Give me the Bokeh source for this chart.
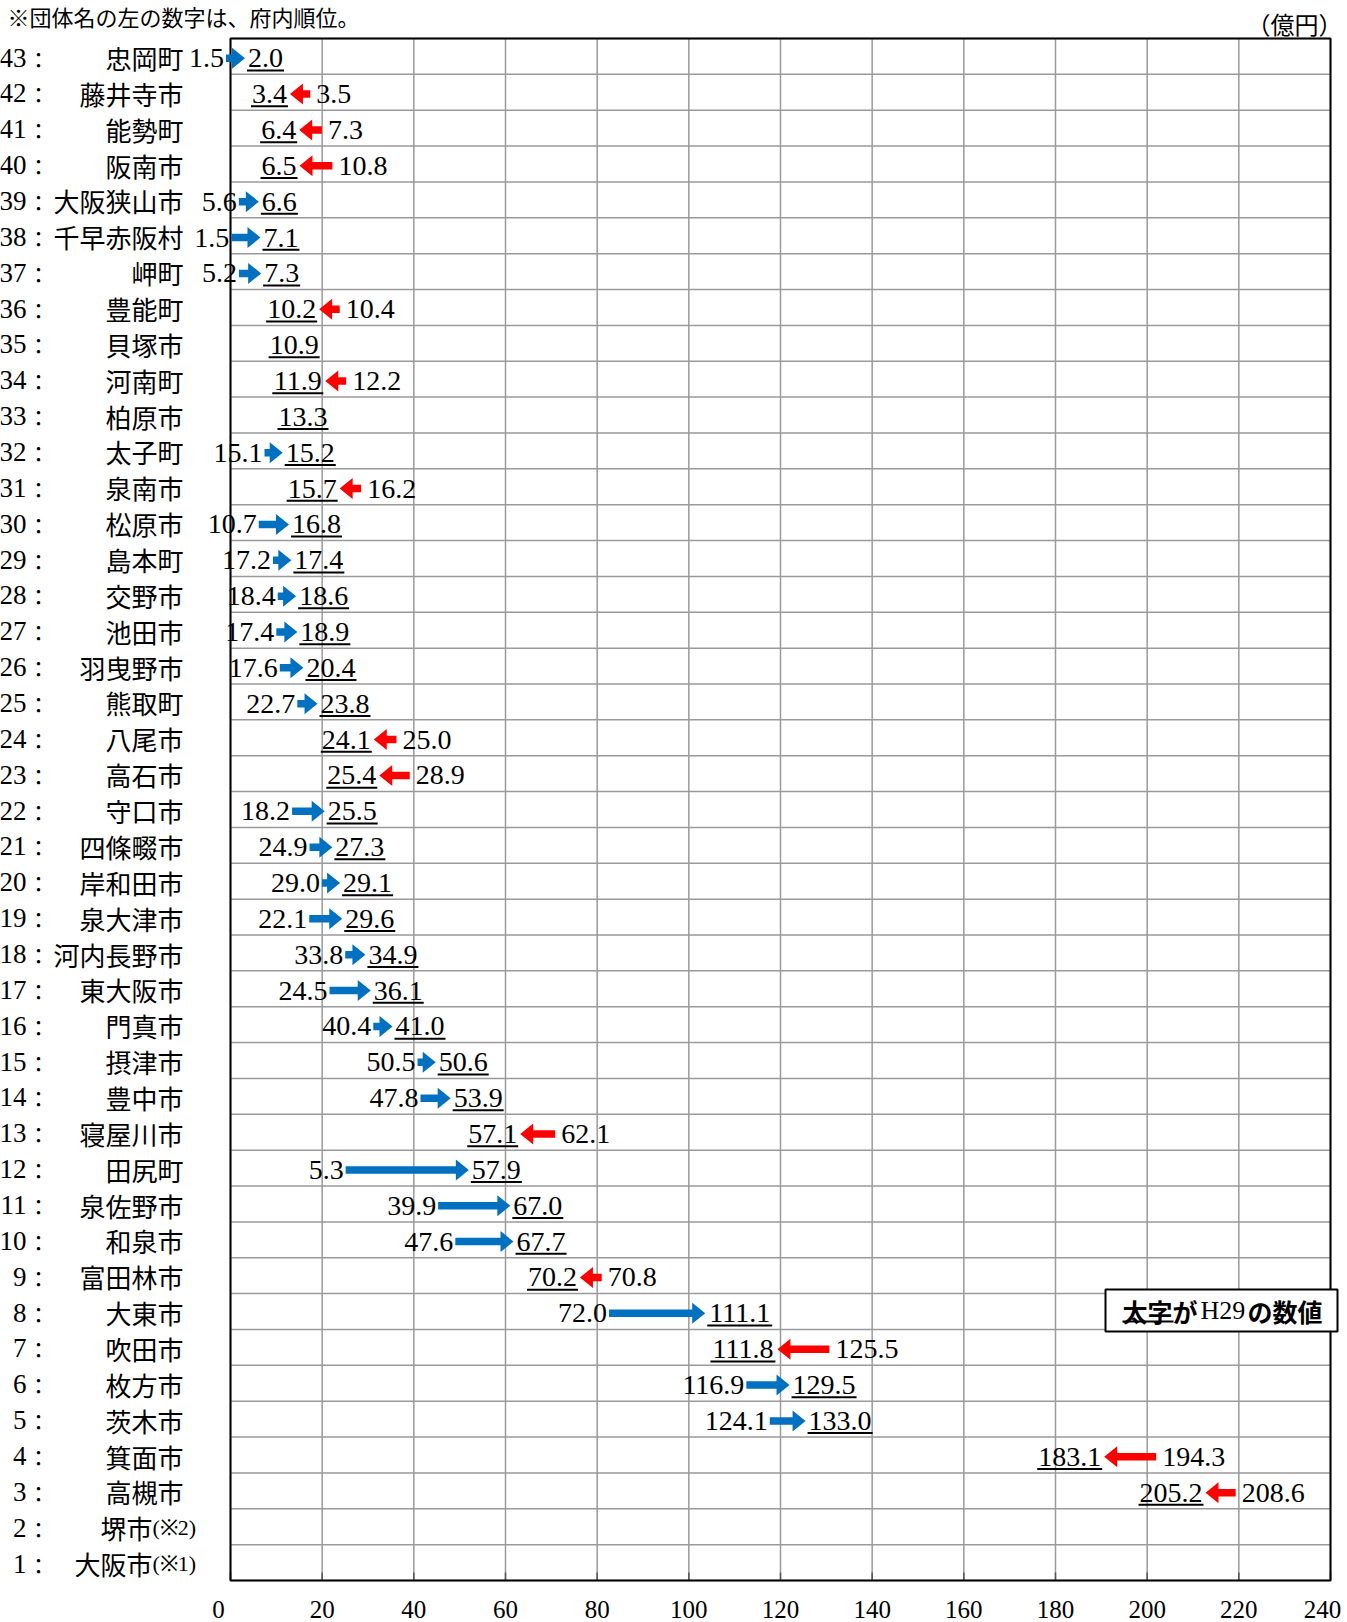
import math
from bokeh.plotting import figure
from bokeh.models import Range1d
from bokeh.core.properties import value
from bokeh.embed import file_html
from bokeh.resources import INLINE

# ---------------- data ----------------
ranks = list(range(43, 0, -1))
names = ["忠岡町", "藤井寺市", "能勢町", "阪南市", "大阪狭山市", "千早赤阪村", "岬町", "豊能町",
         "貝塚市", "河南町", "柏原市", "太子町", "泉南市", "松原市", "島本町", "交野市", "池田市",
         "羽曳野市", "熊取町", "八尾市", "高石市", "守口市", "四條畷市", "岸和田市", "泉大津市",
         "河内長野市", "東大阪市", "門真市", "摂津市", "豊中市", "寝屋川市", "田尻町", "泉佐野市",
         "和泉市", "富田林市", "大東市", "吹田市", "枚方市", "茨木市", "箕面市", "高槻市", "堺市", "大阪市"]
notes = [""] * 41 + ["(※2)", "(※1)"]
h28 = [1.5, 3.5, 7.3, 10.8, 5.6, 1.5, 5.2, 10.4, None, 12.2, None, 15.1, 16.2, 10.7, 17.2,
       18.4, 17.4, 17.6, 22.7, 25.0, 28.9, 18.2, 24.9, 29.0, 22.1, 33.8, 24.5, 40.4, 50.5,
       47.8, 62.1, 5.3, 39.9, 47.6, 70.8, 72.0, 125.5, 116.9, 124.1, 194.3, 208.6, None, None]
h29 = [2.0, 3.4, 6.4, 6.5, 6.6, 7.1, 7.3, 10.2, 10.9, 11.9, 13.3, 15.2, 15.7, 16.8, 17.4,
       18.6, 18.9, 20.4, 23.8, 24.1, 25.4, 25.5, 27.3, 29.1, 29.6, 34.9, 36.1, 41.0, 50.6,
       53.9, 57.1, 57.9, 67.0, 67.7, 70.2, 111.1, 111.8, 129.5, 133.0, 183.1, 205.2, None, None]
x_ticks = list(range(0, 241, 20))
x_tick_labels = [str(t) for t in x_ticks]
title_text = "※団体名の左の数字は、府内順位。"
unit_text = "（億円）"
legend_parts = ["太字が", "H29", "の数値"]

# ---------------- layout (canvas pixels) ----------------
W, H = 1347, 1622
BOX_L, BOX_R, BOX_T, BOX_B = 230, 1330, 38, 1580
XMAX = 240
NROW = len(ranks)
FX = (BOX_R - BOX_L) / XMAX          # px per x unit
FY = (BOX_B - BOX_T) / NROW          # px per row
YTOP = NROW + 0.5


def px_x(px):
    return (px - BOX_L) / FX


def px_y(py):
    return YTOP - (py - BOX_T) / FY


BLUE = "#0070C0"
RED = "#FF0000"
GRID = "#9a9a9a"
NUM_FONT = "Liberation Serif"
JP_FONT = "Noto Sans CJK JP"
NUM_SIZE = 28

p = figure(width=W, height=H, output_backend="svg", toolbar_location=None,
           x_range=Range1d(px_x(0), px_x(W)), y_range=Range1d(px_y(H), px_y(0)),
           min_border=0, background_fill_color="white", border_fill_color="white")
p.outline_line_color = None
p.xaxis.visible = False
p.yaxis.visible = False
p.xgrid.visible = False
p.ygrid.visible = False

# grid + plot box + tick marks + tick labels
p.segment(x0=x_ticks, x1=x_ticks, y0=[0.5] * len(x_ticks), y1=[YTOP] * len(x_ticks),
          line_color=GRID, line_width=1.5)
hy = [k + 0.5 for k in range(0, NROW + 1)]
p.segment(x0=[0] * len(hy), x1=[XMAX] * len(hy), y0=hy, y1=hy,
          line_color=GRID, line_width=1.5)
p.segment(x0=x_ticks, x1=x_ticks, y0=[0.5] * len(x_ticks),
          y1=[0.5 + 8 / FY] * len(x_ticks), line_color="#555555", line_width=1.5)
p.quad(left=[0], right=[XMAX], bottom=[0.5], top=[YTOP], fill_color=None,
       line_color="black", line_width=2)
tick_off = [-12 if i == 0 else (-8 if i == len(x_ticks) - 1 else 0)
            for i in range(len(x_ticks))]
p.text(x=x_ticks, y=[px_y(1609)] * len(x_ticks), text=x_tick_labels, x_offset=tick_off,
       text_align="center", text_baseline="middle", text_font=value(NUM_FONT),
       text_font_size="25px", text_color="black")


def text_w(s):
    # approximate width in x units of a number string in the serif font
    return sum(NUM_SIZE * 0.25 if ch == "." else NUM_SIZE * 0.5 for ch in s) / FX


new_x, new_y, new_t = [], [], []
ul_x0, ul_x1, ul_y = [], [], []
oldR_x, oldR_y, oldR_t = [], [], []
oldL_x, oldL_y, oldL_t = [], [], []
blue_xs, blue_ys, red_xs, red_ys = [], [], [], []

SH = 3.75 / FY    # shaft half height
HH = 10.5 / FY    # head half height
HL = 13 / FX      # head length


def arrow(tail, tip, yc):
    d = 1 if tip > tail else -1
    base = tip - d * HL
    xs = [tail, base, base, tip, base, base, tail]
    ys = [yc + SH, yc + SH, yc + HH, yc, yc - HH, yc - SH, yc - SH]
    return xs, ys


for r, o, n in zip(ranks, h28, h29):
    if n is None:
        continue
    yc = r - 0.05
    t = f"{n:.1f}"
    w = text_w(t)
    c = n + 6.5 * math.exp(-n / 14)
    L, R = c - w / 2, c + w / 2
    new_x.append(c); new_y.append(yc); new_t.append(t)
    ul_x0.append(L - 1 / FX); ul_x1.append(R + 1 / FX); ul_y.append(yc - 0.34)
    if o is None:
        continue
    diff = abs(n - o)
    if n >= o:
        alen = (18 + 2 * diff) / FX
        tip = L - 3 / FX
        tail = tip - alen
        xs, ys = arrow(tail, tip, yc)
        blue_xs.append(xs); blue_ys.append(ys)
        oldR_x.append(tail - 2 / FX); oldR_y.append(yc); oldR_t.append(f"{o:.1f}")
    else:
        alen = min(20 + 3 * diff, 52) / FX
        tip = R + 3 / FX
        tail = tip + alen
        xs, ys = arrow(tail, tip, yc)
        red_xs.append(xs); red_ys.append(ys)
        oldL_x.append(tail + 6 / FX); oldL_y.append(yc); oldL_t.append(f"{o:.1f}")

p.patches(xs=blue_xs, ys=blue_ys, fill_color=BLUE, line_color=None)
p.patches(xs=red_xs, ys=red_ys, fill_color=RED, line_color=None)
p.segment(x0=ul_x0, x1=ul_x1, y0=ul_y, y1=ul_y, line_color="black", line_width=2)


def num_text(xs, ys, ts, align):
    p.text(x=xs, y=ys, text=ts, text_align=align, text_baseline="middle",
           text_font=value(NUM_FONT), text_font_size=f"{NUM_SIZE}px", text_color="black")


num_text(new_x, new_y, new_t, "center")
num_text(oldR_x, oldR_y, oldR_t, "right")
num_text(oldL_x, oldL_y, oldL_t, "left")

# ---------------- row labels (left of box) ----------------
row_y = [r - 0.03 for r in ranks]
p.text(x=[px_x(26)] * NROW, y=row_y, text=[str(r) for r in ranks], text_align="right",
       text_baseline="middle", text_font=value(NUM_FONT), text_font_size="27px",
       text_color="black")
p.text(x=[px_x(27)] * NROW, y=row_y, text=["："] * NROW, text_align="left",
       text_baseline="middle", text_font=value(JP_FONT), text_font_size="22px",
       text_color="black")
name_x = [px_x(183) if nt == "" else px_x(152) for nt in notes]
p.text(x=name_x, y=row_y, text=names, text_align="right", text_baseline="middle",
       text_font=value(JP_FONT), text_font_size="26px", text_color="black")
p.text(x=name_x, y=row_y, text=notes, text_align="left", text_baseline="middle",
       text_font=value(NUM_FONT), text_font_size="22px", text_color="black")

# ---------------- titles / legend ----------------
p.text(x=[px_x(7)], y=[px_y(15)], text=[title_text], text_align="left",
       text_baseline="middle", text_font=value(JP_FONT), text_font_size="22px",
       text_color="black")
p.text(x=[px_x(1342)], y=[px_y(23)], text=[unit_text], text_align="right",
       text_baseline="middle", text_font=value(JP_FONT), text_font_size="24px",
       text_color="black")

LEG_ROW_Y = px_y(1310)
p.quad(left=[px_x(1105)], right=[px_x(1337)], top=[px_y(1289)], bottom=[px_y(1331)],
       fill_color="white", line_color="black", line_width=2)
p.text(x=[px_x(1122)], y=[LEG_ROW_Y], text=[legend_parts[0]], text_align="left",
       text_baseline="middle", text_font=value(JP_FONT), text_font_size="25px",
       text_font_style="bold", text_color="black")
p.text(x=[px_x(1200)], y=[LEG_ROW_Y], text=[legend_parts[1]], text_align="left",
       text_baseline="middle", text_font=value(NUM_FONT), text_font_size="26px",
       text_color="black")
p.text(x=[px_x(1247)], y=[LEG_ROW_Y], text=[legend_parts[2]], text_align="left",
       text_baseline="middle", text_font=value(JP_FONT), text_font_size="25px",
       text_font_style="bold", text_color="black")
p.segment(x0=[px_x(1122)], x1=[px_x(1173)], y0=[px_y(1321)], y1=[px_y(1321)],
          line_color="black", line_width=2)

open("out.html", "w").write(file_html(p, INLINE))
